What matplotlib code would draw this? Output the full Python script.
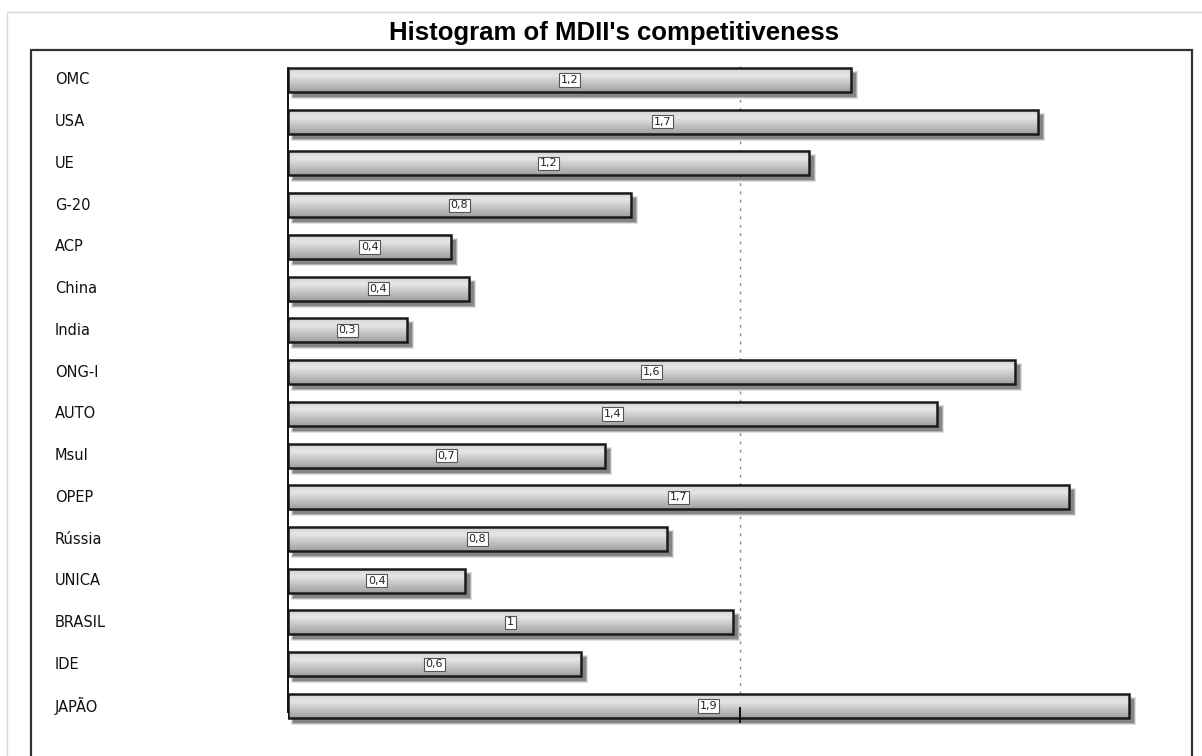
import numpy as np
import matplotlib
matplotlib.use("Agg")
import matplotlib.pyplot as plt
from matplotlib.patches import Rectangle

categories = ["OMC", "USA", "UE", "G-20", "ACP", "China", "India", "ONG-I",
              "AUTO", "Msul", "OPEP", "Rússia", "UNICA", "BRASIL", "IDE", "JAPÃO"]
values = [1.246, 1.659, 1.153, 0.759, 0.361, 0.400, 0.263, 1.608,
          1.436, 0.701, 1.728, 0.838, 0.392, 0.985, 0.648, 1.861]
x_ticks = [1]
title = "Histogram of MDII's competitiveness"


def fmt(v):
    s = "%g" % round(v, 1)
    return s.replace(".", ",")


W, H = 1202, 756
fig = plt.figure(figsize=(W / 100, H / 100), dpi=100)
fig.patch.set_facecolor("white")

# outer light frame and inner dark frame
fig.add_artist(Rectangle((7 / W, -0.1), 1.2, 1 - 12 / H + 0.1, transform=fig.transFigure,
                         fill=False, edgecolor="#d8d8d8", lw=1))
fig.add_artist(Rectangle((31 / W, -0.1), (1192 - 31) / W, 1 - 50 / H + 0.1,
                         transform=fig.transFigure, fill=False, edgecolor="#333333", lw=1.6))

fig.text(614 / W, 1 - 33 / H, title, ha="center", va="center",
         fontsize=18.5, fontweight="bold", family="Liberation Sans")

# data axes: x 0..2 spans px 288..1192, rows 41.73 px apart starting at px 80
pitch = 41.73
y_top = (50 - 80) / pitch
y_bot = (756 - 80) / pitch
ax = fig.add_axes([288 / W, 0, (1192 - 288) / W, (756 - 50) / H])
ax.set_xlim(0, 2)
ax.set_ylim(y_bot, y_top)
ax.axis("off")

px_x = 2 / (1192 - 288)
px_y = 1 / pitch
bh = 24 * px_y

# reference line at 1
ax.plot([1, 1], [(66 - 80) / pitch, (706 - 80) / pitch], color="#8a8a8a", lw=1,
        linestyle=(0, (2, 4)), zorder=0)

grad = np.concatenate([np.linspace(0.82, 0.90, 30), np.linspace(0.90, 0.62, 70)])
grad = grad[:, None]

for i, (cat, v) in enumerate(zip(categories, values)):
    top, bot = i - bh / 2, i + bh / 2
    # soft shadow
    for k, a in enumerate([0.15, 0.25, 0.35]):
        g = (2 - k) * px_x
        gy = (2 - k) * px_y
        ax.add_patch(Rectangle((5 * px_x - g, top + 5 * px_y - gy), v + 2 * g, bh + 2 * gy,
                               facecolor="#303030", edgecolor="none", alpha=a, zorder=1))
    ax.imshow(grad, extent=[0, v, bot, top], aspect="auto", cmap="gray",
              vmin=0, vmax=1, interpolation="bilinear", zorder=2)
    ax.add_patch(Rectangle((0, top), v, bh, facecolor="none", edgecolor="#1a1a1a",
                           lw=1.8, zorder=3))
    ax.text(v / 2, i, fmt(v), ha="center", va="center", fontsize=8, color="#222222",
            zorder=4, family="DejaVu Sans",
            bbox=dict(boxstyle="square,pad=0.15", facecolor="white",
                      edgecolor="#555555", lw=0.8))
    fig.text(55 / W, 1 - (80 + i * pitch) / H, cat, ha="left", va="center",
             fontsize=10.5, color="#111111", family="DejaVu Sans")

ax.set_xlim(0, 2)
ax.set_ylim(y_bot, y_top)

# value axis line
ax.plot([0, 0], [(68 - 80) / pitch, (712 - 80) / pitch], color="#111111", lw=1.4,
        zorder=5, clip_on=False)
for t in x_ticks:
    ax.plot([t, t], [(708 - 80) / pitch, (722 - 80) / pitch], color="#111111", lw=1.4,
            zorder=5)

fig.savefig("out.png", dpi=100, facecolor="white")
